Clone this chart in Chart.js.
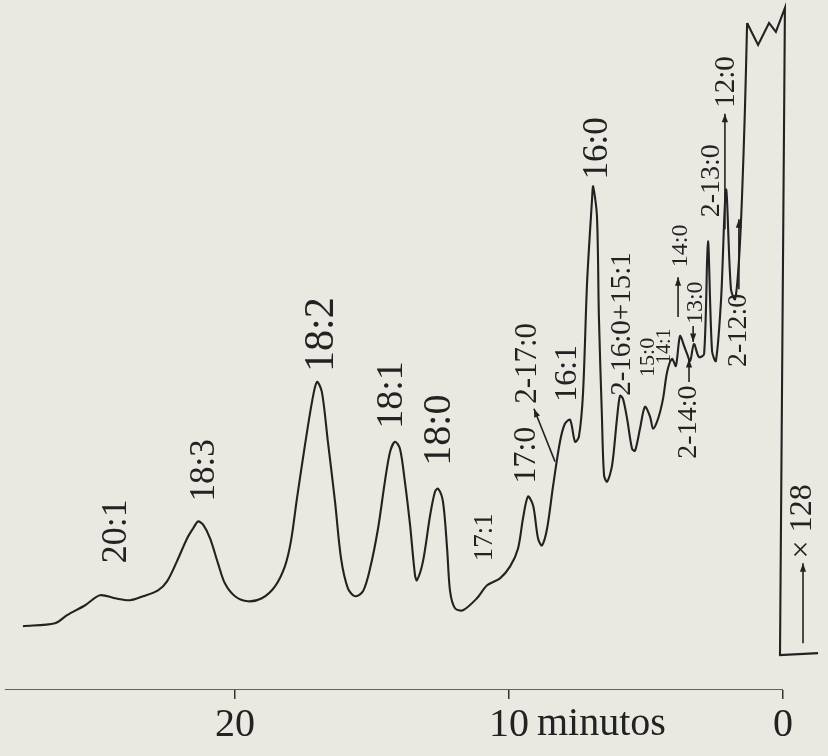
<!DOCTYPE html>
<html>
<head>
<meta charset="utf-8">
<script src="https://cdnjs.cloudflare.com/ajax/libs/Chart.js/4.4.1/chart.umd.min.js"></script>
<style>
  body { margin: 0; background: #e9e8e1; }
  #grafico { display: block; }
</style>
</head>
<body>
<canvas id="grafico" width="828" height="756"></canvas>
<script>
// cromatograma: tiempo (minutos) y respuesta del detector (unidades arbitrarias)
var tiempo = [27.74, 26.57, 26.13, 25.47, 24.93, 24.38, 23.83, 23.36, 22.81, 22.48,
  22.12, 21.75, 21.53, 21.35, 21.17, 20.91, 20.62, 20.37, 20.00, 19.53,
  19.02, 18.54, 18.18, 17.96, 17.74, 17.45, 17.19, 17.01, 16.83, 16.61,
  16.35, 16.13, 15.88, 15.62, 15.33, 15.07, 14.78, 14.53, 14.34, 14.16,
  13.98, 13.80, 13.61, 13.43, 13.36, 13.14, 12.88, 12.70, 12.59, 12.41,
  12.26, 12.15, 11.97, 11.68, 11.17, 10.80, 10.33, 9.96, 9.67, 9.49,
  9.31, 9.12, 8.94, 8.80, 8.61, 8.39, 8.14, 7.96, 7.77, 7.59,
  7.45, 7.30, 7.15, 6.97, 6.93, 6.79, 6.72, 6.61, 6.53, 6.42,
  6.24, 6.06, 5.95, 5.84, 5.69, 5.51, 5.40, 5.22, 5.04, 4.85,
  4.74, 4.56, 4.38, 4.23, 4.05, 3.91, 3.76, 3.61, 3.50, 3.39,
  3.25, 3.07, 2.88, 2.74, 2.59, 2.45, 2.26, 2.08, 1.90, 1.75,
  1.61, 1.50, 1.39, 1.31, 0.91, 0.51, 0.26, -0.07, 0.11, -1.28];

var senal = [64, 67, 75, 85, 95, 92, 90, 94, 100, 109,
  129, 152, 162, 169, 166, 152, 127, 107, 94, 89,
  92, 104, 124, 149, 192, 245, 289, 309, 299, 249,
  189, 132, 102, 94, 99, 122, 162, 209, 239, 249,
  242, 209, 165, 115, 110, 129, 175, 199, 202, 189,
  142, 99, 82, 80, 92, 105, 112, 124, 142, 172,
  194, 185, 152, 145, 162, 205, 249, 267, 271, 249,
  254, 297, 409, 492, 505, 475, 375, 275, 215, 209,
  225, 272, 295, 292, 272, 242, 240, 262, 284, 274,
  262, 272, 292, 319, 332, 325, 355, 345, 337, 330,
  347, 334, 337, 450, 340, 330, 392, 502, 402, 392,
  430, 492, 582, 669, 647, 669, 660, 684, 35, 37];

// a partir de este punto la pluma se sale de escala (trazo recto)
var corteSolvente = 113;

var marcasX = [0, 10, 20];

// nombres de los picos
var etiquetas = ["20:1", "18:3", "18:2", "18:1", "18:0", "17:1", "17:0", "2-17:0", "16:1", "16:0",
  "2-16:0+15:1", "15:0", "14:1", "14:0", "13:0", "2-14:0", "2-13:0", "12:0", "2-12:0", "\u00d7 128"];
// donde va cada nombre: [tiempo, altura, tamaño de letra]
var etiquetasPos = [[24.31, 127, 36], [21.09, 189, 35], [16.82, 319, 42], [14.27, 262, 38], [12.52, 225, 40],
  [10.88, 129, 27], [9.34, 207, 32], [9.31, 287, 31], [7.88, 289, 32], [6.75, 512, 35],
  [5.88, 295, 29], [4.93, 314, 22], [4.31, 327, 20], [3.72, 424, 24], [3.18, 367, 24],
  [3.43, 232, 28], [2.59, 474, 28], [2.08, 584, 29], [1.61, 324, 28], [-0.73, 132, 32]];
// flechas: [t1, h1, t2, h2], punta en el segundo punto
var flechas = [[8.32, 229, 9.09, 282], [3.83, 374, 3.83, 414], [3.28, 365, 3.28, 349],
  [3.43, 309, 3.43, 332], [2.12, 462, 2.12, 578], [1.61, 402, 1.61, 472], [-0.73, 47, -0.73, 127]];

var tinta = '#222';

var puntos = tiempo.map(function (t, i) { return { x: t, y: senal[i] }; });

var rotulos = {
  id: 'rotulos',
  afterDraw: function (chart) {
    var ctx = chart.ctx;
    var xs = chart.scales.x, ys = chart.scales.y;
    ctx.save();
    ctx.fillStyle = tinta;
    ctx.strokeStyle = tinta;
    etiquetas.forEach(function (txt, i) {
      var p = etiquetasPos[i];
      ctx.save();
      ctx.translate(xs.getPixelForValue(p[0]), ys.getPixelForValue(p[1]));
      ctx.rotate(-Math.PI / 2);
      ctx.font = p[2] + 'px "Liberation Serif"';
      ctx.textAlign = 'left';
      ctx.textBaseline = 'middle';
      ctx.fillText(txt, 0, 0);
      ctx.restore();
    });
    ctx.lineWidth = 1.6;
    flechas.forEach(function (f) {
      var x1 = xs.getPixelForValue(f[0]), y1 = ys.getPixelForValue(f[1]);
      var x2 = xs.getPixelForValue(f[2]), y2 = ys.getPixelForValue(f[3]);
      ctx.beginPath();
      ctx.moveTo(x1, y1);
      ctx.lineTo(x2, y2);
      ctx.stroke();
      var a = Math.atan2(y2 - y1, x2 - x1);
      ctx.beginPath();
      ctx.moveTo(x2, y2);
      ctx.lineTo(x2 - 9 * Math.cos(a - 0.35), y2 - 9 * Math.sin(a - 0.35));
      ctx.lineTo(x2 - 9 * Math.cos(a + 0.35), y2 - 9 * Math.sin(a + 0.35));
      ctx.closePath();
      ctx.fill();
    });
    // "minutos" junto a la marca de 10
    ctx.font = '40px "Liberation Serif"';
    ctx.textAlign = 'left';
    ctx.textBaseline = 'middle';
    ctx.fillText('minutos', xs.getPixelForValue(10) + 28, 724);
    ctx.restore();
  }
};

new Chart(document.getElementById('grafico').getContext('2d'), {
  type: 'line',
  data: {
    datasets: [{
      label: 'cromatograma',
      data: puntos.slice(0, corteSolvente + 1),
      borderColor: tinta,
      borderWidth: 2.1,
      pointRadius: 0,
      tension: 0.3,
      fill: false
    }, {
      label: 'solvente',
      data: puntos.slice(corteSolvente),
      borderColor: tinta,
      borderWidth: 2.1,
      pointRadius: 0,
      tension: 0,
      fill: false
    }, {
      label: 'eje',
      data: [{ x: 28.4, y: 0 }, { x: 0, y: 0 }],
      borderColor: '#333',
      borderWidth: 1.5,
      pointRadius: 0,
      fill: false
    }]
  },
  options: {
    responsive: false,
    animation: false,
    layout: { padding: { left: 0, right: 0, top: 2, bottom: 5 } },
    plugins: { legend: { display: false }, tooltip: { enabled: false } },
    scales: {
      x: {
        type: 'linear',
        reverse: true,
        min: -1.642,
        max: 28.577,
        afterBuildTicks: function (scale) {
          scale.ticks = marcasX.map(function (v) { return { value: v }; });
        },
        border: { display: false },
        grid: { drawOnChartArea: false, drawTicks: true, tickLength: 9, color: '#333', lineWidth: 1.5 },
        ticks: {
          color: tinta,
          padding: 2,
          maxRotation: 0,
          autoSkip: false,
          font: { family: '"Liberation Serif"', size: 40 }
        }
      },
      y: {
        display: false,
        min: 0,
        max: 690
      }
    }
  },
  plugins: [rotulos]
});
</script>
</body>
</html>
